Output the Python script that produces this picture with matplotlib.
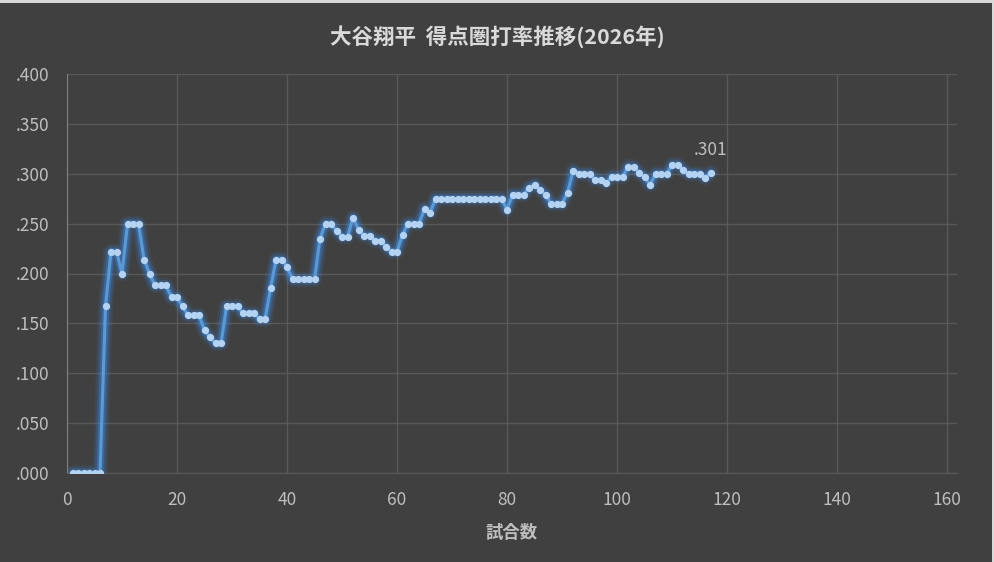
import matplotlib
matplotlib.use('Agg')
import matplotlib.pyplot as plt
from matplotlib.patches import Rectangle
from matplotlib.ticker import FuncFormatter, MultipleLocator
import numpy as np

plt.rcParams['font.family'] = ['Noto Sans CJK JP', 'DejaVu Sans']

# 得点圏打率 (game by game)
avg = [
    0, 0, 0, 0, 0, 0, .167, .222, .222, .200,
    .250, .250, .250, .214, .200, .188, .188, .188, .176, .176,
    .167, .158, .158, .158, .143, .136, .130, .130, .167, .167,
    .167, .160, .160, .160, .154, .154, .185, .214, .214, .207,
    .194, .194, .194, .194, .194, .235, .250, .250, .243, .237,
    .237, .256, .244, .238, .238, .233, .233, .227, .222, .222,
    .239, .250, .250, .250, .265, .261, .275, .275, .275, .275,
    .275, .275, .275, .275, .275, .275, .275, .275, .275, .264,
    .279, .279, .279, .286, .289, .284, .279, .270, .270, .270,
    .281, .303, .300, .300, .300, .294, .294, .291, .297, .297,
    .297, .307, .307, .301, .297, .289, .300, .300, .300, .309,
    .309, .304, .300, .300, .300, .296, .301,
]
games = np.arange(1, len(avg) + 1)

title = '大谷翔平  得点圏打率推移(2026年)'
xlabel = '試合数'

bg = '#404040'
grid_c = '#595959'
text_c = '#bfbfbf'
line_c = '#5b9bd5'

fig = plt.figure(figsize=(9.94, 5.62), dpi=100, facecolor=bg)
# thin light border at top and right edge
fig.patches.append(Rectangle((0, 559 / 562), 1, 3 / 562, transform=fig.transFigure,
                             facecolor='#d9d9d9', edgecolor='none', zorder=10))
fig.patches.append(Rectangle((992 / 994, 0), 2 / 994, 1, transform=fig.transFigure,
                             facecolor='#d9d9d9', edgecolor='none', zorder=10))

ax = fig.add_axes([67 / 994, 89 / 562, 890 / 994, 399 / 562])
ax.set_facecolor(bg)

# glow
for lw, a in [(11, 0.10), (8, 0.18), (5, 0.35)]:
    ax.plot(games, avg, color='#3d8ef0', linewidth=lw, alpha=a,
            solid_capstyle='round', solid_joinstyle='round')
ax.plot(games, avg, color=line_c, linewidth=2.2, marker='o', markersize=4.2,
        markerfacecolor='#b4d3f2', markeredgecolor='#b4d3f2', zorder=5)

ax.annotate(f'{avg[-1]:.3f}'.lstrip('0'), (games[-1], avg[-1]),
            xytext=(0, 10), textcoords='offset points', ha='center', va='bottom',
            color=text_c, fontsize=12.5)

ax.set_xlim(0, 161.8)
ax.set_ylim(0, 0.4)
ax.set_xticks(np.arange(0, 161, 20))
ax.yaxis.set_major_locator(MultipleLocator(0.05))
ax.yaxis.set_major_formatter(FuncFormatter(lambda v, p: f'{v:.3f}'.lstrip('0')))
ax.grid(True, color=grid_c, linewidth=1)
ax.set_axisbelow(True)
ax.tick_params(length=0, colors=text_c, labelsize=12.5)
ax.tick_params(axis='y', pad=13)
ax.tick_params(axis='x', pad=13)

for s in ['top', 'right']:
    ax.spines[s].set_visible(False)
ax.spines['left'].set_color('#808080')
ax.spines['bottom'].set_color(grid_c)

ax.set_xlabel(xlabel, color=text_c, fontsize=12.5, fontweight='bold', labelpad=11)
fig.text(0.5, 1 - 37 / 562, title, ha='center', va='center', color='#d9d9d9',
         fontsize=15.5, fontweight='bold')

fig.savefig('out.png', dpi=100, facecolor=fig.get_facecolor())
